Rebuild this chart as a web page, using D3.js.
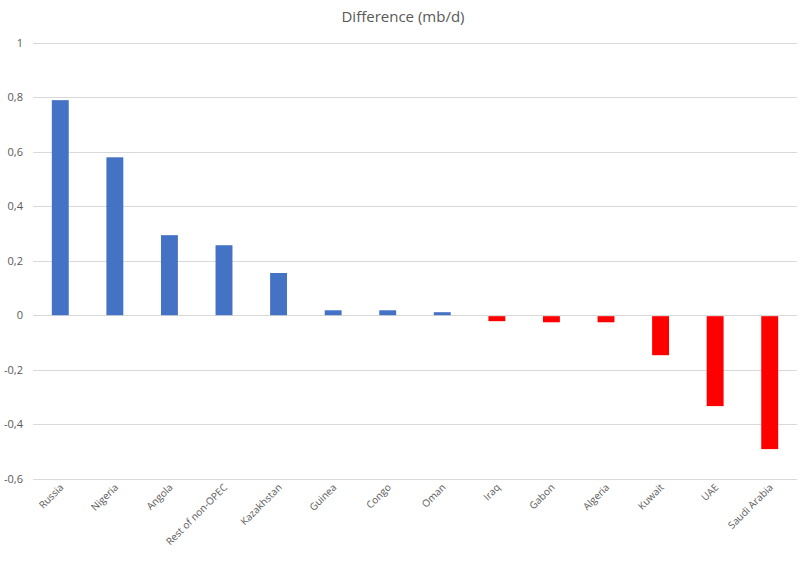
<!DOCTYPE html>
<html>
<head>
<meta charset="utf-8">
<script src="https://cdn.jsdelivr.net/npm/d3@7"></script>
<style>
  body { margin: 0; background: #fff; }
  text { font-family: "Open Sans", sans-serif; fill: #595959; }
</style>
</head>
<body>
<script>
// chart data
var countries = ["Russia", "Nigeria", "Angola", "Rest of non-OPEC", "Kazakhstan", "Guinea", "Congo",
  "Oman", "Iraq", "Gabon", "Algeria", "Kuwait", "UAE", "Saudi Arabia"];
var diff = [0.79, 0.58, 0.294, 0.257, 0.155, 0.018, 0.018, 0.011, -0.022, -0.026, -0.026, -0.147, -0.334, -0.492];
var yTicks = [1, 0.8, 0.6, 0.4, 0.2, 0, -0.2, -0.4, -0.6];

var width = 806, height = 561;
var plotLeft = 33, plotRight = 797, plotTop = 43, plotBottom = 478.5;

var svg = d3.select("body").append("svg")
  .attr("width", width)
  .attr("height", height);

var x = d3.scaleBand()
  .domain(countries)
  .range([plotLeft, plotRight])
  .paddingInner(0.69)
  .paddingOuter(0.345);

var y = d3.scaleLinear()
  .domain([-0.6, 1])
  .range([plotBottom, plotTop]);

// gridlines
svg.append("g").selectAll("line")
  .data(yTicks)
  .enter().append("line")
    .attr("x1", plotLeft)
    .attr("x2", plotRight)
    .attr("y1", function(d) { return Math.round(y(d)) + 0.5; })
    .attr("y2", function(d) { return Math.round(y(d)) + 0.5; })
    .style("stroke", "#d9d9d9")
    .style("stroke-width", 1);

// y labels
svg.append("g").selectAll("text")
  .data(yTicks)
  .enter().append("text")
    .attr("x", 23)
    .attr("y", function(d) { return y(d) + 4; })
    .attr("text-anchor", "end")
    .style("font-size", "11px")
    .text(function(d) { return d3.format(".1f")(d).replace(".", ",").replace(/,0$/, "").replace("−", "-"); });

// bars
svg.append("g").selectAll("rect")
  .data(diff)
  .enter().append("rect")
    .attr("x", function(d, i) { return x(countries[i]); })
    .attr("width", x.bandwidth())
    .attr("y", function(d) { return d > 0 ? y(d) : y(0) + 1; })
    .attr("height", function(d) { return d > 0 ? y(0) - y(d) : y(d) - y(0) - 1; })
    .style("fill", function(d) { return d > 0 ? "#4472c4" : "#ff0000"; });

// x labels
svg.append("g").selectAll("text")
  .data(countries)
  .enter().append("text")
    .attr("transform", function(d) {
      return "translate(" + (x(d) + x.bandwidth() / 2 + 4) + "," + 488 + ") rotate(-45)";
    })
    .attr("text-anchor", "end")
    .style("font-size", "10px")
    .text(function(d) { return d; });

// title
svg.append("text")
  .attr("x", 403)
  .attr("y", 22)
  .attr("text-anchor", "middle")
  .style("font-size", "15px")
  .text("Difference (mb/d)");
</script>
</body>
</html>
